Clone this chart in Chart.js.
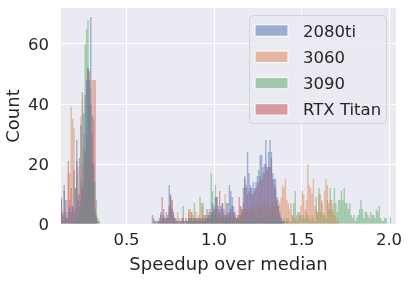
<!DOCTYPE html>
<html>
<head>
<meta charset="utf-8">
<script src="https://cdn.jsdelivr.net/npm/chart.js"></script>
<style>
  html, body { margin: 0; padding: 0; background: #ffffff; }
  #c { display: block; }
</style>
</head>
<body>
<canvas id="c" width="408" height="281" style="width:408px;height:281px"></canvas>
<script>
// ---------------- data ----------------
const seriesNames = ["2080ti", "3060", "3090", "RTX Titan"];
const binWidth = 0.008;
const startLow = 0.128;   // centre of first bin, low cluster
const startHigh = 0.624;  // centre of first bin, high cluster

const xTicks = [0.5, 1.0, 1.5, 2.0];
const yTicks = [0, 20, 40, 60];
const xRange = [0.1257, 2.04];
const yRange = [0, 72];

const gpu2080tiLow = [8,3,13,8,2,4,6,4,6,18,12,28,8,22,33,12,37,43,48,52,48,69,36,20,5,2,0,0];
const gpu3060Low   = [5,1,2,4,8,17,17,39,35,32,12,17,19,10,36,42,30,20,22,51,30,45,48,48,8,0,0,0];
const gpu3090Low   = [0,1,0,1,0,1,0,2,1,0,2,1,3,2,8,44,25,60,65,68,40,30,20,14,14,8,2,0];
const rtxTitanLow  = [9,4,11,3,2,21,8,12,6,4,5,21,10,6,15,20,14,24,30,52,51,40,30,35,48,3,1,1];

const gpu2080tiHigh = [0,0,0,3,0,1,0,1,2,4,
  2,3,2,4,2,13,10,5,3,2,
  1,1,0,1,2,1,0,1,1,2,
  1,2,1,2,1,2,1,2,1,2,
  1,2,5,3,2,4,7,5,9,9,
  5,4,5,7,5,3,7,7,13,11,
  9,6,4,2,2,3,3,5,12,16,
  12,24,17,13,12,14,12,14,16,18,
  23,23,19,20,28,19,24,28,24,17,
  15,15,9,6,4,2,1,1,0,0];
const gpu3060High = [0,0,0,0,1,0,1,1,0,1,
  2,1,2,1,2,4,6,8,4,2,
  2,4,1,1,1,2,1,2,1,5,
  5,4,3,2,4,2,3,2,7,6,
  3,2,2,4,3,2,2,3,4,5,
  3,3,2,3,4,10,4,3,4,3,
  2,2,3,2,3,2,6,5,5,4,
  5,4,5,5,6,4,6,5,6,5,
  6,5,7,6,6,7,5,6,6,7,
  6,7,6,8,7,9,13,12,15,8,
  7,5,7,3,2,2,1,2,4,6,
  11,10,5,8,20,13,12,10,15,6,
  5,4,10,10,8,4,11,15,13,7,
  8,8,7,3,2,1,1];
const gpu3090High = [0,0,0,0,0,0,0,0,0,0,
  0,0,0,0,0,0,0,0,1,0,
  0,1,2,0,1,6,1,0,1,1,
  2,4,1,7,2,1,1,9,2,7,
  3,2,1,2,2,17,11,3,13,2,
  2,1,2,1,2,1,2,1,2,1,
  1,2,1,1,1,1,1,2,1,2,
  1,2,1,2,1,1,2,1,2,1,
  2,1,2,2,1,2,1,2,1,2,
  1,2,1,2,1,1,1,2,1,2,
  2,1,1,3,7,11,3,4,3,3,
  2,3,2,4,3,2,1,3,2,1,
  9,4,12,4,7,3,3,2,8,5,
  12,5,4,12,7,4,8,8,11,8,
  12,7,7,5,7,3,2,3,1,2,
  3,5,8,5,2,4,4,3,2,4,
  3,3,2,5,4,6,2,1,1,2,
  2,0,0,2,0,0,0];
const rtxTitanHigh = [0,0,0,0,2,1,0,1,1,3,
  9,5,2,2,3,6,9,8,4,2,
  1,0,1,1,0,2,1,2,1,4,
  2,1,2,1,2,1,2,2,1,2,
  1,3,2,3,5,3,4,6,5,9,
  6,11,6,7,3,2,3,3,4,5,
  6,4,3,2,3,9,6,4,7,15,
  13,10,11,12,10,10,11,12,13,14,
  16,15,17,17,20,18,19,19,22,15,
  13,12,8,6,3,2,1,0,0,1];

// ---------------- styling ----------------
const baseColors = [[76,114,176],[221,132,82],[85,168,104],[196,78,82]];
const fillAlpha = 0.5;
const textColor = "#262626";
const fontFamily = "'DejaVu Sans', sans-serif";

function toPoints(start, counts) {
  return counts.map((c, i) => ({ x: +(start + i * binWidth).toFixed(4), y: c }));
}
const seriesData = [
  toPoints(startLow, gpu2080tiLow).concat(toPoints(startHigh, gpu2080tiHigh)),
  toPoints(startLow, gpu3060Low).concat(toPoints(startHigh, gpu3060High)),
  toPoints(startLow, gpu3090Low).concat(toPoints(startHigh, gpu3090High)),
  toPoints(startLow, rtxTitanLow).concat(toPoints(startHigh, rtxTitanHigh))
];
const rgba = (c, a) => `rgba(${c[0]},${c[1]},${c[2]},${a})`;

const datasets = seriesNames.map((name, i) => ({
  label: name,
  data: seriesData[i],
  backgroundColor: rgba(baseColors[i], fillAlpha),
  borderWidth: 0,
  grouped: false,
  barPercentage: 1,
  categoryPercentage: 1,
  inflateAmount: 0
}));

const bgPlugin = {
  id: 'plotBg',
  beforeDraw(chart) {
    const a = chart.chartArea, ctx = chart.ctx;
    ctx.save();
    ctx.fillStyle = '#EAEAF2';
    ctx.fillRect(a.left, a.top, a.right - a.left, a.bottom - a.top);
    ctx.restore();
  }
};

function roundRect(ctx, x, y, w, h, r) {
  ctx.beginPath();
  ctx.moveTo(x + r, y);
  ctx.lineTo(x + w - r, y);
  ctx.arcTo(x + w, y, x + w, y + r, r);
  ctx.lineTo(x + w, y + h - r);
  ctx.arcTo(x + w, y + h, x + w - r, y + h, r);
  ctx.lineTo(x + r, y + h);
  ctx.arcTo(x, y + h, x, y + h - r, r);
  ctx.lineTo(x, y + r);
  ctx.arcTo(x, y, x + r, y, r);
  ctx.closePath();
}

const legendPlugin = {
  id: 'boxLegend',
  afterDraw(chart) {
    const a = chart.chartArea, ctx = chart.ctx;
    const boxW = 137, boxH = 108;
    const bx = a.right - 9.5 - boxW, by = a.top + 7.5;
    ctx.save();
    roundRect(ctx, bx, by, boxW, boxH, 4);
    ctx.fillStyle = 'rgba(234,234,242,0.8)';
    ctx.fill();
    ctx.strokeStyle = 'rgba(204,204,204,0.8)';
    ctx.lineWidth = 1;
    ctx.stroke();
    ctx.font = `16.5px ${fontFamily}`;
    ctx.textBaseline = 'alphabetic';
    ctx.textAlign = 'left';
    seriesNames.forEach((name, i) => {
      const cy = by + 15 + i * 26.3;
      const px = bx + 5.5, pw = 33, ph = 11.5;
      ctx.fillStyle = rgba(baseColors[i], fillAlpha);
      ctx.fillRect(px, cy - ph / 2, pw, ph);
      ctx.strokeStyle = '#ffffff';
      ctx.lineWidth = 1;
      ctx.strokeRect(px, cy - ph / 2, pw, ph);
      ctx.fillStyle = textColor;
      ctx.fillText(name, bx + 53.5, cy + 6);
    });
    ctx.restore();
  }
};

new Chart(document.getElementById('c').getContext('2d'), {
  type: 'bar',
  data: { datasets },
  options: {
    responsive: false,
    animation: false,
    devicePixelRatio: 1,
    layout: { padding: { top: 8, right: 12, left: 0, bottom: 0 } },
    plugins: { legend: { display: false }, tooltip: { enabled: false } },
    scales: {
      x: {
        type: 'linear',
        offset: false,
        min: xRange[0], max: xRange[1],
        grid: { color: '#ffffff', lineWidth: 1, drawTicks: false, offset: false },
        border: { display: false },
        afterBuildTicks: s => { s.ticks = xTicks.map(v => ({ value: v })); },
        afterFit: s => { s.height = 57; s.paddingLeft = 0; s.paddingRight = 0; },
        ticks: {
          color: textColor, padding: 7,
          font: { family: fontFamily, size: 16.5 },
          callback: v => v.toFixed(1), maxRotation: 0, autoSkip: false
        },
        title: {
          display: true, text: 'Speedup over median', color: textColor,
          font: { family: fontFamily, size: 18 }, padding: { top: 0, bottom: 5 }
        }
      },
      y: {
        min: yRange[0], max: yRange[1],
        grid: { color: '#ffffff', lineWidth: 1, drawTicks: false },
        border: { display: false },
        afterBuildTicks: s => { s.ticks = yTicks.map(v => ({ value: v })); },
        afterFit: s => { s.width = 61; s.paddingTop = 0; s.paddingBottom = 0; },
        ticks: {
          color: textColor, padding: 12, labelOffset: 2,
          font: { family: fontFamily, size: 16.5 }
        },
        title: {
          display: true, text: 'Count', color: textColor,
          font: { family: fontFamily, size: 18 }, padding: { top: 4, bottom: 0 }
        }
      }
    }
  },
  plugins: [bgPlugin, legendPlugin]
});
</script>
</body>
</html>
